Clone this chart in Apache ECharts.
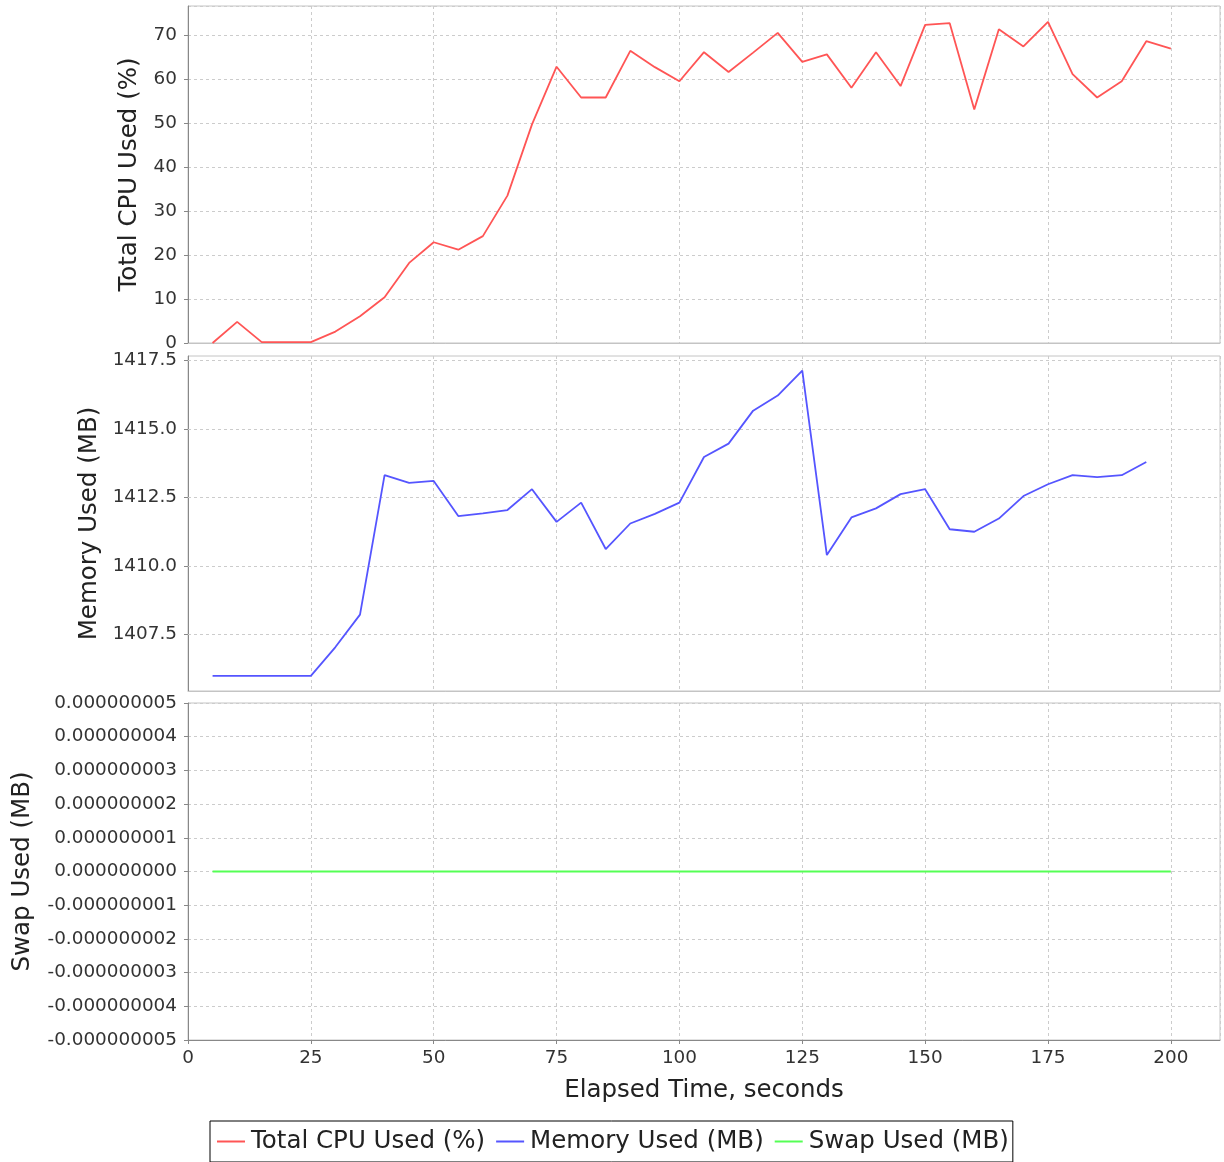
<!DOCTYPE html>
<html>
<head>
<meta charset="utf-8">
<script src="https://cdn.jsdelivr.net/npm/echarts@6/dist/echarts.min.js"></script>
<style>
html,body{margin:0;padding:0;background:#fff;}
#chart{width:1224px;height:1162px;}
</style>
</head>
<body>
<div id="chart"></div>
<script>
const elapsedSeconds = [5,10,15,20,25,30,35,40,45,50,55,60,65,70,75,80,85,90,95,100,105,110,115,120,125,130,135,140,145,150,155,160,165,170,175,180,185,190,195,200];
const cpuUsed = [0,4.8,0.2,0.2,0.2,2.6,6.1,10.4,18.2,22.9,21.2,24.3,33.5,49.7,62.8,55.8,55.8,66.4,62.7,59.5,66.1,61.6,66.0,70.5,63.9,65.6,58.0,66.1,58.4,72.3,72.7,53.1,71.3,67.4,73.0,61.1,55.8,59.5,68.6,66.9];
const memoryUsed = [1406.0,1406.0,1406.0,1406.0,1406.0,1407.05,1408.23,1413.31,1413.03,1413.1,1411.82,1411.92,1412.04,1412.8,1411.61,1412.31,1410.62,1411.55,1411.9,1412.31,1413.97,1414.46,1415.66,1416.21,1417.12,1410.4,1411.77,1412.1,1412.62,1412.8,1411.34,1411.25,1411.73,1412.55,1412.98,1413.31,1413.24,1413.31,1413.79];
const swapUsed = [0,0,0,0,0,0,0,0,0,0,0,0,0,0,0,0,0,0,0,0,0,0,0,0,0,0,0,0,0,0,0,0,0,0,0,0,0,0,0,0];
const memoryTicks = [1407.5,1410.0,1412.5,1415.0,1417.5];
const seriesNames = ['Total CPU Used (%)','Memory Used (MB)','Swap Used (MB)'];
const xAxisTitle = 'Elapsed Time, seconds';

const FONT = 'DejaVu Sans';
const axisGray = '#888888';
const dashGrid = {color:'#cccccc', type:[3,3], width:1};
const gridLine = {show:true, lineStyle:dashGrid};
const TICK_FS = 18.4;
const TITLE_FS = 24.5;

function pairs(vals){ return vals.map((v,i)=>[elapsedSeconds[i], v]); }

const grids = [
  {left:188, right:4, top:6, height:337},
  {left:188, right:4, top:356, height:335},
  {left:188, right:4, top:703, height:337}
].map(g=>Object.assign({show:true, borderColor:'#c4c4c4', borderWidth:1, backgroundColor:'#fff'}, g));

function xAx(i, bottom){
  return {
    type:'value', gridIndex:i, min:0, max:210, interval:25,
    axisLine:{show:true, onZero:false, lineStyle:{color: bottom? axisGray : '#c4c4c4'}},
    axisTick:{show:bottom, length:4, lineStyle:{color:axisGray}},
    axisLabel:{show:bottom, showMaxLabel:false, fontFamily:FONT, fontSize:TICK_FS, color:'#333', margin:9},
    splitLine:gridLine,
    name: bottom? xAxisTitle : '',
    nameLocation:'middle', nameGap:38,
    nameTextStyle:{fontFamily:FONT, fontSize:TITLE_FS, color:'#222'}
  };
}

const option = {
  animation:false,
  backgroundColor:'#fff',
  grid: grids,
  xAxis: [xAx(0,false), xAx(1,false), xAx(2,true)],
  yAxis: [
    {type:'value', gridIndex:0, min:0, max:76.6, interval:10,
     axisLine:{show:true, lineStyle:{color:axisGray}},
     axisTick:{show:true, length:4, lineStyle:{color:axisGray}},
     axisLabel:{showMaxLabel:false, fontFamily:FONT, fontSize:TICK_FS, color:'#333', margin:11},
     splitLine:gridLine,
     name:seriesNames[0], nameLocation:'middle', nameGap:46,
     nameTextStyle:{fontFamily:FONT, fontSize:TITLE_FS, color:'#222'}},
    {type:'value', gridIndex:1, min:1405.45, max:1417.65,
     axisLine:{show:true, lineStyle:{color:axisGray}},
     axisTick:{show:true, length:4, lineStyle:{color:axisGray}, customValues:memoryTicks},
     axisLabel:{fontFamily:FONT, fontSize:TICK_FS, color:'#333', margin:11, customValues:memoryTicks,
       formatter:(v)=>Number(v).toFixed(1)},
     splitLine:{show:false},
     name:seriesNames[1], nameLocation:'middle', nameGap:86,
     nameTextStyle:{fontFamily:FONT, fontSize:TITLE_FS, color:'#222'}},
    {type:'value', gridIndex:2, min:-5e-9, max:5e-9, interval:1e-9,
     axisLine:{show:true, onZero:false, lineStyle:{color:axisGray}},
     axisTick:{show:true, length:4, lineStyle:{color:axisGray}},
     axisLabel:{fontFamily:FONT, fontSize:TICK_FS, color:'#333', margin:11,
       formatter:(v)=>{ if(Math.abs(v)<1e-12) return '0.000000000'; return Number(v).toFixed(9);} },
     splitLine:gridLine,
     name:seriesNames[2], nameLocation:'middle', nameGap:153,
     nameTextStyle:{fontFamily:FONT, fontSize:TITLE_FS, color:'#222'}}
  ],
  legend:{
    data:seriesNames,
    left:210, top:1121,
    orient:'horizontal',
    icon:'rect', itemWidth:28, itemHeight:2, itemGap:11,
    padding:[8,4,8,7],
    borderColor:'#000', borderWidth:1,
    textStyle:{fontFamily:FONT, fontSize:TITLE_FS, color:'#222', padding:[0,0,0,1]}
  },
  series: [
    {name:seriesNames[0], type:'line', xAxisIndex:0, yAxisIndex:0, data:pairs(cpuUsed),
     showSymbol:false, symbol:'none', lineStyle:{color:'#ff5555', width:1.8}, itemStyle:{color:'#ff5555'}},
    {name:seriesNames[1], type:'line', xAxisIndex:1, yAxisIndex:1, data:pairs(memoryUsed),
     showSymbol:false, symbol:'none', lineStyle:{color:'#5555ff', width:1.8}, itemStyle:{color:'#5555ff'},
     markLine:{silent:true, symbol:'none', label:{show:false}, z:1,
       lineStyle:dashGrid,
       data: memoryTicks.map(v=>({yAxis:v}))}},
    {name:seriesNames[2], type:'line', xAxisIndex:2, yAxisIndex:2, data:pairs(swapUsed),
     showSymbol:false, symbol:'none', lineStyle:{color:'#55ff55', width:1.8}, itemStyle:{color:'#55ff55'}}
  ]
};

const chart = echarts.init(document.getElementById('chart'), null, {renderer:'canvas'});
chart.setOption(option);
</script>
</body>
</html>
